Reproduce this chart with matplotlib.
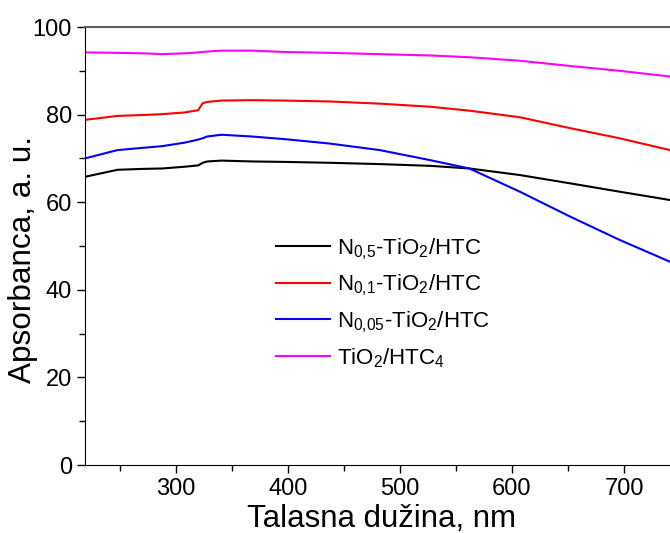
import matplotlib
matplotlib.use("Agg")
import matplotlib.pyplot as plt
from matplotlib.ticker import MultipleLocator

plt.rcParams["font.family"] = ["Liberation Sans", "DejaVu Sans"]
plt.rcParams["mathtext.fontset"] = "custom"
plt.rcParams["mathtext.rm"] = "Liberation Sans"
plt.rcParams["mathtext.it"] = "Liberation Sans:italic"
plt.rcParams["mathtext.default"] = "regular"

# wavelength [nm] and absorbance [a.u.]
wl = [219, 248, 270, 288, 308, 320, 324, 328, 341, 368, 397, 437, 482, 527, 562, 607, 652, 696, 741]
n05 = [65.8, 67.4, 67.6, 67.7, 68.1, 68.4, 69.0, 69.3, 69.5, 69.3, 69.2, 69.0, 68.7, 68.3, 67.7, 66.2, 64.3, 62.4, 60.5]
n01 = [78.8, 79.7, 79.9, 80.1, 80.5, 81.0, 82.6, 82.9, 83.2, 83.3, 83.2, 83.0, 82.5, 81.8, 80.9, 79.4, 76.9, 74.6, 71.9]
n005 = [70.0, 71.9, 72.4, 72.8, 73.6, 74.3, 74.6, 75.0, 75.4, 75.0, 74.4, 73.4, 71.9, 69.6, 67.7, 62.4, 56.7, 51.4, 46.4]
tio2 = [94.2, 94.1, 94.0, 93.8, 94.0, 94.2, 94.3, 94.4, 94.6, 94.6, 94.3, 94.1, 93.8, 93.5, 93.1, 92.3, 91.1, 90.0, 88.7]

labels = [r"N$_{0{,}5}$-TiO$_2$/HTC", r"N$_{0{,}1}$-TiO$_2$/HTC",
          r"N$_{0{,}05}$-TiO$_2$/HTC", r"TiO$_2$/HTC$_4$"]
colors = ["black", "#FF0000", "#0000FF", "#FF00FF"]

fig = plt.figure(figsize=(6.7, 5.33), dpi=100)
ax = fig.add_axes([85 / 670, 68 / 533, 585 / 670, 438 / 533])

for y, c, lab in zip([n05, n01, n005, tio2], colors, labels):
    ax.plot(wl, y, color=c, lw=1.5, label=lab)

ax.set_xlim(219, 741)
ax.set_ylim(0, 100)
ax.xaxis.set_major_locator(MultipleLocator(100))
ax.xaxis.set_minor_locator(MultipleLocator(50))
ax.yaxis.set_major_locator(MultipleLocator(20))
ax.yaxis.set_minor_locator(MultipleLocator(10))
ax.tick_params(which="major", direction="out", length=6, width=1, labelsize=17)
ax.tick_params(which="minor", direction="out", length=4, width=1)
ax.spines["right"].set_visible(False)
ax.spines["top"].set_color("#606060")
ax.spines["top"].set_linewidth(1.5)

ax.set_xlabel("Talasna dužina, nm", fontsize=22.5, labelpad=2.5)
ax.xaxis.label.set_x(0.507)
ax.set_ylabel("Apsorbanca, a. u.", fontsize=22.7)
ax.yaxis.set_label_coords(-0.08, 0.47)

ax.legend(loc="upper left", bbox_to_anchor=(0.3265, 0.5225), frameon=False,
          fontsize=16, handlelength=2.43, handletextpad=0.32, labelspacing=0.5,
          borderpad=0, borderaxespad=0)

fig.savefig("out.png", dpi=100)
